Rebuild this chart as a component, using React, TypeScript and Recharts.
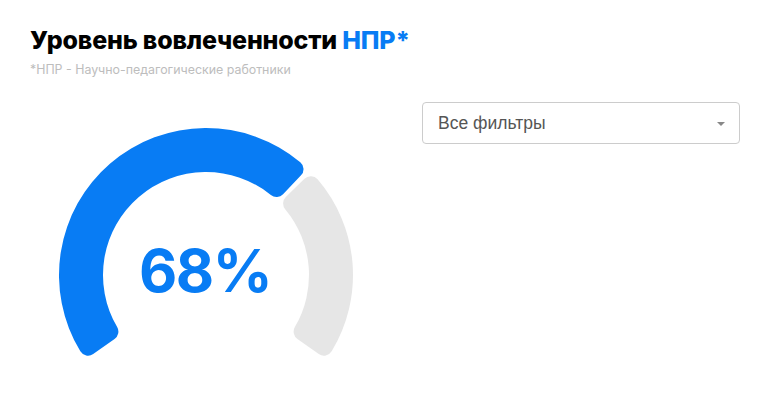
import React from 'react';
import { PieChart, Pie, Cell } from 'recharts';

const segments = ['НПР', 'остальные'];
const shares = [68, 32];
const colors = ['#087cf4', '#e6e6e6'];

const filterLabel = 'Все фильтры';

const data = segments.map((name, i) => ({ name, value: shares[i] }));

const App: React.FC = () => {
  return (
    <div
      style={{
        position: 'absolute',
        left: 0,
        top: 0,
        width: 767,
        height: 409,
        background: '#fff',
        fontFamily: 'Inter, Roboto, sans-serif',
        overflow: 'hidden',
      }}
    >
      {/* Title */}
      <div
        style={{
          position: 'absolute',
          left: 30,
          top: 25,
          fontSize: 25,
          fontWeight: 800,
          color: '#000',
          whiteSpace: 'nowrap',
          letterSpacing: -0.2,
        }}
      >
        Уровень вовлеченности <span style={{ color: '#087cf4' }}>НПР*</span>
      </div>
      <div
        style={{
          position: 'absolute',
          left: 30,
          top: 62,
          fontSize: 12.4,
          color: '#bdbdbd',
          whiteSpace: 'nowrap',
        }}
      >
        *НПР - Научно-педагогические работники
      </div>

      {/* Filter dropdown */}
      <div
        style={{
          position: 'absolute',
          left: 422,
          top: 102,
          width: 316,
          height: 40,
          border: '1px solid #cccccc',
          borderRadius: 4,
          fontFamily: '"Liberation Sans", Arial, sans-serif',
        }}
      >
        <span style={{ position: 'absolute', left: 15, top: 10, fontSize: 17.5, color: '#555' }}>{filterLabel}</span>
        <span
          style={{
            position: 'absolute',
            left: 294,
            top: 19,
            width: 0,
            height: 0,
            borderLeft: '4px solid transparent',
            borderRight: '4px solid transparent',
            borderTop: '4px solid #888',
          }}
        />
      </div>

      {/* Gauge */}
      <div style={{ position: 'absolute', left: 0, top: 0 }}>
        <PieChart width={767} height={409} margin={{ top: 0, right: 0, bottom: 0, left: 0 }}>
          <Pie
            data={data}
            dataKey="value"
            cx={206}
            cy={275}
            startAngle={215}
            endAngle={-35}
            innerRadius={103}
            outerRadius={147}
            cornerRadius={9}
            paddingAngle={2}
            stroke="none"
            isAnimationActive={false}
          >
            {data.map((d, i) => (
              <Cell key={d.name} fill={colors[i]} />
            ))}
          </Pie>
        </PieChart>
      </div>
      <div
        style={{
          position: 'absolute',
          left: 105,
          width: 200,
          top: 233,
          textAlign: 'center',
          fontSize: 59,
          fontWeight: 700,
          letterSpacing: -1.5,
          color: '#087cf4',
          lineHeight: '76px',
        }}
      >
        {shares[0]}%
      </div>
    </div>
  );
};

export default App;
